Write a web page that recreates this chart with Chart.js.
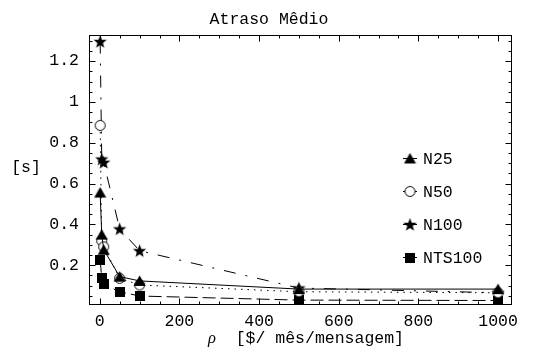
<!DOCTYPE html>
<html>
<head>
<meta charset="utf-8">
<script src="https://cdn.jsdelivr.net/npm/chart.js@4.4.0/dist/chart.umd.min.js"></script>
<style>
  html, body { margin: 0; padding: 0; background: #fff; }
  #wrap { width: 536px; height: 354px; position: relative; }
</style>
</head>
<body>
<div id="wrap"><canvas id="c" width="536" height="354"></canvas></div>
<script>
// price per message (x) and mean delay in seconds for each network size
const rho    = [1, 5, 10, 50, 100, 500, 1000];
const n25    = [0.556, 0.350, 0.276, 0.144, 0.123, 0.083, 0.083];
const n50    = [0.885, 0.320, 0.290, 0.136, 0.103, 0.070, 0.065];
const n100   = [1.296, 0.720, 0.704, 0.378, 0.271, 0.088, 0.065];
const nts100 = [0.227, 0.136, 0.106, 0.070, 0.049, 0.029, 0.027];
const seriesNames = ['N25', 'N50', 'N100', 'NTS100'];
const xTicks = [0, 200, 400, 600, 800, 1000];
const yTicks = [0.2, 0.4, 0.6, 0.8, 1, 1.2];

const MONO = '"Liberation Mono", "DejaVu Sans Mono", monospace';
const FS = 16.5;

// marker glyphs rendered once to small canvases
function makeMarker(kind) {
  const c = document.createElement('canvas');
  const g = c.getContext('2d');
  if (kind === 'triangle') {
    c.width = 13; c.height = 12;
    g.fillStyle = '#000';
    g.beginPath(); g.moveTo(6.5, 0.5); g.lineTo(12.5, 11); g.lineTo(0.5, 11); g.closePath(); g.fill();
  } else if (kind === 'circle') {
    c.width = 13; c.height = 13;
    g.fillStyle = '#fff'; g.strokeStyle = '#000'; g.lineWidth = 1;
    g.beginPath(); g.arc(6.5, 6.5, 5, 0, Math.PI * 2); g.fill(); g.stroke();
  } else if (kind === 'star') {
    c.width = 15; c.height = 15;
    g.fillStyle = '#000';
    g.beginPath();
    for (let k = 0; k < 10; k++) {
      const r = k % 2 === 0 ? 7 : 2.9;
      const a = -Math.PI / 2 + k * Math.PI / 5;
      const px = 7.5 + r * Math.cos(a), py = 8 + r * Math.sin(a);
      k === 0 ? g.moveTo(px, py) : g.lineTo(px, py);
    }
    g.closePath(); g.fill();
  } else {
    c.width = 10; c.height = 10;
    g.fillStyle = '#000'; g.fillRect(0, 0, 10, 10);
  }
  return c;
}

const markers = {
  tri: makeMarker('triangle'),
  circ: makeMarker('circle'),
  star: makeMarker('star'),
  sq: makeMarker('square')
};

function pts(vals) { return rho.map((x, i) => ({ x: x, y: vals[i] })); }

function series(label, vals, dash, marker) {
  return {
    label: label,
    data: pts(vals),
    borderColor: '#000',
    borderWidth: 1,
    borderDash: dash,
    pointStyle: marker,
    pointRadius: 6,
    pointHoverRadius: 6,
    tension: 0,
    fill: false
  };
}

// frame on all four sides with inward major/minor ticks
const framePlugin = {
  id: 'frame',
  beforeDatasetsDraw(chart) {
    const { ctx, chartArea: a, scales: { x, y } } = chart;
    const L = Math.round(a.left) + 0.5, R = Math.round(a.right) - 0.5;
    const T = Math.round(a.top) + 0.5, B = Math.round(a.bottom) - 0.5;
    ctx.save();
    ctx.strokeStyle = '#000';
    ctx.lineWidth = 1;
    ctx.strokeRect(L, T, R - L, B - T);
    ctx.beginPath();
    for (let v = 0; v <= 1000; v += 50) {
      const px = Math.round(x.getPixelForValue(v)) + 0.5;
      const len = v % 200 === 0 ? 6 : 3;
      ctx.moveTo(px, B); ctx.lineTo(px, B - len);
      ctx.moveTo(px, T); ctx.lineTo(px, T + len);
    }
    for (let k = 1; k <= 26; k++) {
      const v = k * 0.05;
      const py = Math.round(y.getPixelForValue(v)) + 0.5;
      if (py < T || py > B) continue;
      const len = k % 4 === 0 ? 6 : 3;
      ctx.moveTo(L, py); ctx.lineTo(L + len, py);
      ctx.moveTo(R, py); ctx.lineTo(R - len, py);
    }
    ctx.stroke();
    ctx.restore();
  }
};

// legend inside the plot, right side
const legendPlugin = {
  id: 'insideLegend',
  afterDatasetsDraw(chart) {
    const { ctx } = chart;
    ctx.save();
    ctx.font = FS + 'px ' + MONO;
    ctx.fillStyle = '#000';
    ctx.strokeStyle = '#000';
    ctx.lineWidth = 1;
    ctx.textBaseline = 'middle';
    ctx.textAlign = 'left';
    chart.data.datasets.forEach((ds, i) => {
      const yy = 158.5 + i * 33;
      ctx.beginPath(); ctx.moveTo(403, yy); ctx.lineTo(417, yy); ctx.stroke();
      const m = ds.pointStyle;
      ctx.drawImage(m, 410 - m.width / 2, yy - m.height / 2);
      ctx.fillText(ds.label, 423, yy + 1);
    });
    ctx.restore();
  }
};

// title and axis captions
const textPlugin = {
  id: 'captions',
  afterDraw(chart) {
    const { ctx } = chart;
    ctx.save();
    ctx.fillStyle = '#000';
    ctx.textBaseline = 'middle';
    ctx.font = FS + 'px ' + MONO;
    ctx.textAlign = 'center';
    ctx.fillText('Atraso Mêdio', 269, 20);
    ctx.fillText('[s]', 26, 168);
    // x caption: italic rho followed by the unit
    const rhoFont = 'italic ' + FS + 'px "Liberation Serif", serif';
    const rest = '  [$/ mês/mensagem]';
    ctx.font = rhoFont;
    const w1 = ctx.measureText('ρ').width;
    ctx.font = FS + 'px ' + MONO;
    const w2 = ctx.measureText(rest).width;
    const x0 = 306 - (w1 + w2) / 2;
    ctx.textAlign = 'left';
    ctx.font = rhoFont;
    ctx.fillText('ρ', x0, 339);
    ctx.font = FS + 'px ' + MONO;
    ctx.fillText(rest, x0 + w1, 339);
    ctx.restore();
  }
};

new Chart(document.getElementById('c'), {
  type: 'line',
  data: {
    datasets: [
      series(seriesNames[0], n25, [], markers.tri),
      series(seriesNames[1], n50, [1.5, 5], markers.circ),
      series(seriesNames[2], n100, [12, 10, 2, 10], markers.star),
      series(seriesNames[3], nts100, [13, 5], markers.sq)
    ]
  },
  options: {
    responsive: false,
    animation: false,
    devicePixelRatio: 1,
    layout: { autoPadding: false, padding: { left: 0, top: 35, right: 24, bottom: 0 } },
    plugins: { legend: { display: false }, title: { display: false }, tooltip: { enabled: false } },
    scales: {
      x: {
        type: 'linear',
        min: -27,
        max: 1035,
        grid: { display: false, drawTicks: false },
        border: { display: false },
        afterBuildTicks: s => { s.ticks = xTicks.map(v => ({ value: v })); },
        afterFit: s => { s.height = 49; },
        ticks: {
          color: '#000',
          padding: 7,
          maxRotation: 0,
          font: { family: MONO, size: FS },
          callback: v => String(v)
        }
      },
      y: {
        type: 'linear',
        min: 0.005,
        max: 1.328,
        grid: { display: false, drawTicks: false },
        border: { display: false },
        afterBuildTicks: s => { s.ticks = yTicks.map(v => ({ value: v })); },
        afterFit: s => { s.width = 89; },
        ticks: {
          color: '#000',
          padding: 10,
          font: { family: MONO, size: FS },
          callback: v => String(Math.round(v * 10) / 10)
        }
      }
    }
  },
  plugins: [framePlugin, legendPlugin, textPlugin]
});
</script>
</body>
</html>
